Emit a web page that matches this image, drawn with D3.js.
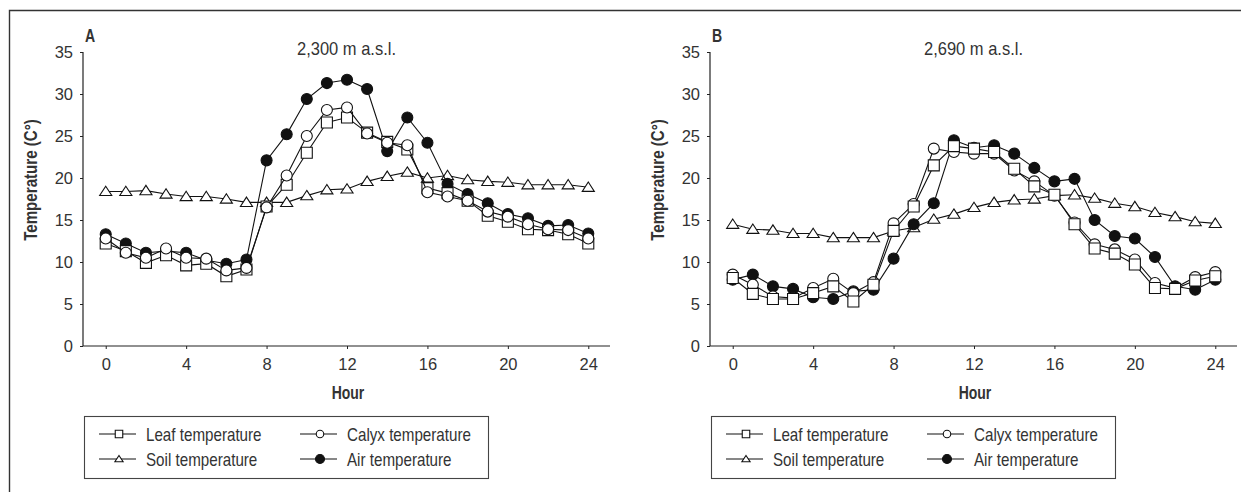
<!DOCTYPE html>
<html>
<head>
<meta charset="utf-8">
<script src="https://cdn.jsdelivr.net/npm/d3@7"></script>
<style>
  body { margin: 0; background: #fff; }
  svg text { font-family: "Liberation Sans", Arial, sans-serif; fill: #333; }
</style>
</head>
<body>
<div class="container"></div>
<script>
// chart values
var hours = d3.range(0, 25);
var yTicks = [0, 5, 10, 15, 20, 25, 30, 35];
var xTicks = [0, 4, 8, 12, 16, 20, 24];

var leafA  = [12.2, 11.3, 9.9, 10.8, 9.6, 9.8, 8.3, 9.1, 16.6, 19.2, 23.0, 26.6, 27.2, 25.4, 24.3, 23.4, 18.8, 18.2, 17.3, 15.5, 14.8, 13.9, 13.8, 13.3, 12.2];
var calyxA = [12.8, 11.1, 10.5, 11.6, 10.5, 10.4, 9.0, 9.3, 16.5, 20.3, 25.0, 28.1, 28.4, 25.3, 24.2, 23.9, 18.3, 17.8, 17.3, 16.0, 15.4, 14.5, 13.9, 13.8, 12.8];
var soilA  = [18.4, 18.4, 18.5, 18.1, 17.8, 17.8, 17.5, 17.1, 17.1, 17.1, 17.9, 18.6, 18.7, 19.6, 20.2, 20.7, 20.0, 20.3, 19.8, 19.6, 19.5, 19.2, 19.2, 19.2, 18.9];
var airA   = [13.3, 12.2, 11.1, 11.3, 11.1, 10.2, 9.8, 10.3, 22.1, 25.2, 29.4, 31.3, 31.7, 30.6, 23.2, 27.2, 24.2, 19.3, 18.1, 17.0, 15.7, 15.2, 14.3, 14.4, 13.4];

var leafB  = [8.1, 6.2, 5.6, 5.6, 6.3, 7.1, 5.3, 7.3, 13.7, 16.6, 21.5, 23.8, 23.5, 23.1, 21.1, 19.0, 18.0, 14.5, 11.6, 11.0, 9.7, 6.9, 6.8, 7.8, 8.3];
var calyxB = [8.5, 7.3, 5.9, 5.7, 6.9, 8.0, 6.3, 7.6, 14.6, 16.9, 23.5, 23.1, 22.9, 22.9, 20.9, 19.6, 17.9, 14.7, 12.1, 11.5, 10.3, 7.5, 6.9, 8.2, 8.8];
var soilB  = [14.5, 13.9, 13.8, 13.4, 13.4, 12.9, 12.9, 12.9, 13.7, 14.1, 15.1, 15.7, 16.5, 17.1, 17.4, 17.5, 17.9, 18.0, 17.6, 17.0, 16.6, 15.9, 15.4, 14.8, 14.6];
var airB   = [7.9, 8.5, 7.1, 6.8, 5.8, 5.6, 6.5, 6.7, 10.4, 14.5, 17.0, 24.5, 23.6, 23.9, 22.9, 21.2, 19.6, 19.9, 15.0, 13.1, 12.8, 10.6, 7.1, 6.7, 7.9];

var legendNames = ["Leaf temperature", "Calyx temperature", "Soil temperature", "Air temperature"];

var svg = d3.select('.container').append('svg')
  .attr('width', 1241).attr('height', 497);

// outer frame (left and top edge only visible)
svg.append('path')
  .attr('d', 'M9.5,492 V10.5 H1241')
  .attr('fill', 'none').attr('stroke', '#333').attr('stroke-width', 1.4);

// squeeze text horizontally, the original uses a condensed face
function narrow(sel, k) {
  sel.each(function() {
    var len = this.getComputedTextLength();
    d3.select(this).attr('textLength', len * k).attr('lengthAdjust', 'spacingAndGlyphs');
  });
}

// marker shapes
function markerPath(type, s) {
  var h = s / 2;
  if (type === 'square') return 'M' + (-h) + ',' + (-h) + 'h' + s + 'v' + s + 'h' + (-s) + 'Z';
  if (type === 'triangle') return 'M0,' + (-h * 0.95) + 'L' + (h * 1.1) + ',' + (h * 0.75) + 'L' + (-h * 1.1) + ',' + (h * 0.75) + 'Z';
  return null;
}

function addMarker(g, type, cx, cy, s) {
  if (type === 'circle' || type === 'dot') {
    return g.append('circle').attr('cx', cx).attr('cy', cy).attr('r', s / 2)
      .attr('fill', type === 'dot' ? '#111' : '#fff').attr('stroke', '#111').attr('stroke-width', 1.1);
  }
  return g.append('path').attr('d', markerPath(type, s))
    .attr('transform', 'translate(' + cx + ',' + cy + ')')
    .attr('fill', '#fff').attr('stroke', '#111').attr('stroke-width', 1.1);
}

function drawPanel(dx, letter, title, series) {
  var g = svg.append('g').attr('transform', 'translate(' + dx + ',0)');

  var x = d3.scaleLinear().domain([-1.13, 25.08]).range([83, 610]);
  var y = d3.scaleLinear().domain([0, 35]).range([346, 52]);

  // axes
  var yAxis = g.append('g').attr('transform', 'translate(83,0)')
    .call(d3.axisLeft(y).tickValues(yTicks).tickSize(3).tickPadding(7));
  var xAxis = g.append('g').attr('transform', 'translate(0,346)')
    .call(d3.axisBottom(x).tickValues(xTicks).tickSize(3).tickPadding(9));
  [xAxis, yAxis].forEach(function(a) {
    a.select('.domain').attr('stroke', '#222').attr('stroke-width', 1.2);
    a.selectAll('.tick line').attr('stroke', '#222');
    a.selectAll('.tick text').style('font-size', '16.5px').attr('fill', '#333');
  });
  yAxis.select('.domain').attr('d', 'M0,52V346');
  xAxis.select('.domain').attr('d', 'M83,0H610');

  g.append('text').attr('x', 85).attr('y', 42)
    .style('font-size', '18px').style('font-weight', 'bold').text(letter)
    .call(narrow, 0.78);
  g.append('text').attr('x', 297).attr('y', 55)
    .style('font-size', '18.5px').text(title)
    .attr('textLength', 99).attr('lengthAdjust', 'spacingAndGlyphs');
  g.append('text').attr('transform', 'translate(37,180) rotate(-90)')
    .attr('text-anchor', 'middle').style('font-size', '18px').style('font-weight', 'bold')
    .text('Temperature (C°)')
    .call(narrow, 0.84);
  g.append('text').attr('x', 348).attr('y', 399).attr('text-anchor', 'middle')
    .style('font-size', '17.5px').style('font-weight', 'bold').text('Hour')
    .call(narrow, 0.8);

  var line = d3.line().x(function(d, i) { return x(hours[i]); }).y(function(d) { return y(d); });

  series.forEach(function(s) {
    var sg = g.append('g');
    sg.append('path').datum(s.values).attr('d', line)
      .attr('fill', 'none').attr('stroke', '#111').attr('stroke-width', 1.1);
    s.values.forEach(function(v, i) {
      addMarker(sg, s.type, x(hours[i]), y(v), 11);
    });
  });

  // legend
  var lg = g.append('g');
  lg.append('rect').attr('x', 84.5).attr('y', 416.5).attr('width', 404).attr('height', 62)
    .attr('fill', '#fff').attr('stroke', '#444').attr('stroke-width', 1.1);
  var items = [
    { name: legendNames[0], type: 'square', col: 0, row: 0 },
    { name: legendNames[1], type: 'circle', col: 1, row: 0 },
    { name: legendNames[2], type: 'triangle', col: 0, row: 1 },
    { name: legendNames[3], type: 'dot', col: 1, row: 1 }
  ];
  items.forEach(function(it) {
    var lx = it.col === 0 ? 99 : 300;
    var ly = it.row === 0 ? 434 : 459;
    lg.append('line').attr('x1', lx).attr('x2', lx + 37).attr('y1', ly).attr('y2', ly)
      .attr('stroke', '#111').attr('stroke-width', 1.1);
    addMarker(lg, it.type, lx + 20, ly, it.type === 'dot' ? 9 : 7.5);
    lg.append('text').attr('x', lx + 47).attr('y', ly + 6.5)
      .style('font-size', '18.5px').text(it.name)
      .call(narrow, 0.82);
  });
}

drawPanel(0, 'A', '2,300 m a.s.l.', [
  { values: soilA, type: 'triangle' },
  { values: airA, type: 'dot' },
  { values: leafA, type: 'square' },
  { values: calyxA, type: 'circle' }
]);

drawPanel(627, 'B', '2,690 m a.s.l.', [
  { values: soilB, type: 'triangle' },
  { values: airB, type: 'dot' },
  { values: calyxB, type: 'circle' },
  { values: leafB, type: 'square' }
]);
</script>
</body>
</html>
